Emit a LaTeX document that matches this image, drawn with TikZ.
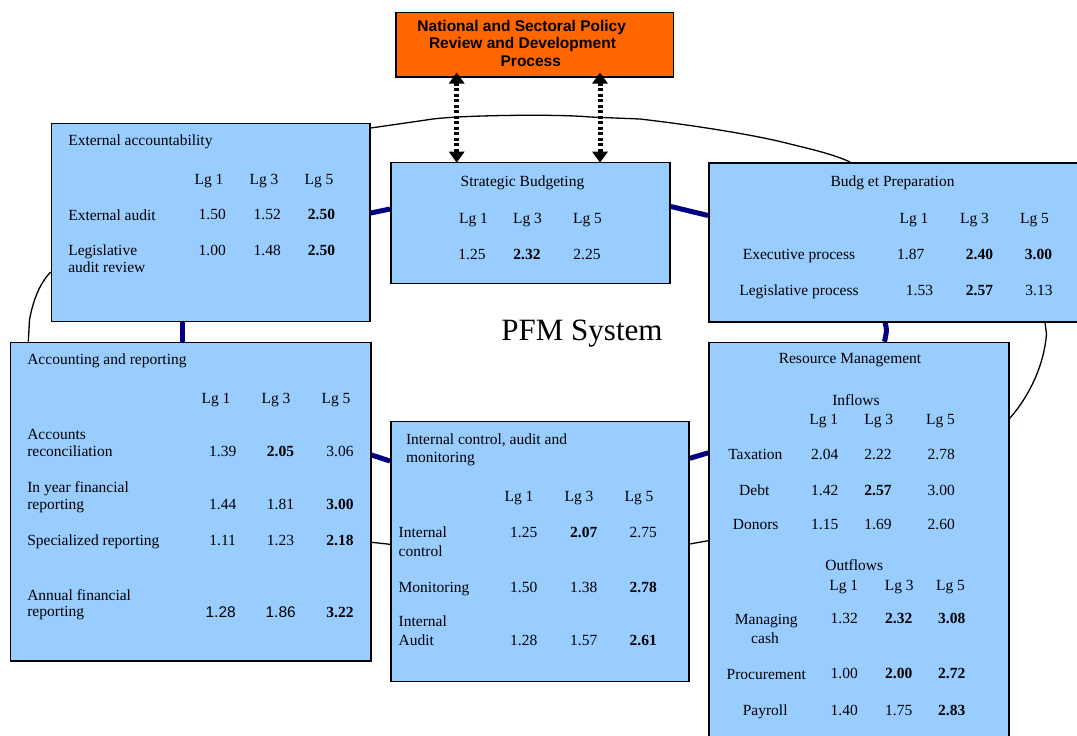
\documentclass[tikz,border=0pt]{standalone}
\usepackage{fontspec}
\setmainfont{Liberation Serif}
\newfontfamily\arialf{Liberation Sans}
\usetikzlibrary{arrows.meta,calc}
\definecolor{lblue}{HTML}{99CCFF}
\definecolor{orng}{HTML}{FF6600}
\definecolor{navyc}{HTML}{000080}
\newcommand\bodyfs{\fontsize{15.5}{18}\selectfont}
\newcommand\rowtrio[8]{%
  \node[tx,anchor=base] (#1a) at (#3,#2) {#4};
  \node[tx,anchor=base] (#1b) at (#5,#2) {#6};
  \node[tx,anchor=base] (#1c) at (#7,#2) {#8};}
\pgfdeclarelayer{bg}
\pgfsetlayers{bg,main}
\begin{document}
\begin{tikzpicture}[x=1pt,y=-1pt,
  box/.style={draw=black,line width=1.5pt,fill=lblue,inner sep=0pt,anchor=north west},
  tx/.style={font=\bodyfs,inner sep=0pt,outer sep=0pt},
  ttl/.style={font=\arialf\bfseries\fontsize{15.5}{18}\selectfont,inner sep=0pt},
  thickc/.style={draw=navyc,line width=5pt},
  thinc/.style={draw=black,line width=1.3pt},
  dotarrow/.style={line width=5pt,dash pattern=on 3pt off 2.5pt,
    {Triangle[length=11pt,width=15pt]}-{Triangle[length=11pt,width=15pt]}}]
\useasboundingbox (0,0) rectangle (1077,736);

% boxes
\node[box,fill=orng,minimum width=277.5pt,minimum height=64.3pt] (pol) at (395,11.7) {};
\node[box,minimum width=318.6pt,minimum height=198pt] (ext) at (50.7,122.7) {};
\node[box,minimum width=279.3pt,minimum height=121pt] (strat) at (390,161.7) {};
\node[box,minimum width=380pt,minimum height=159pt] (bp) at (708,162) {};
\node[box,minimum width=360.5pt,minimum height=318.3pt] (acc) at (9.5,341.7) {};
\node[box,minimum width=298.3pt,minimum height=260pt] (int) at (390,420.7) {};
\node[box,minimum width=300pt,minimum height=420pt] (res) at (708.3,341.7) {};

% connectors (behind boxes)
\begin{pgfonlayer}{bg}
\draw[thickc] (ext.east |- 0,213) -- (strat.west |- 0,209);
\draw[thickc] (strat.east |- 0,206.5) -- (bp.west |- 0,215.5);
\draw[thickc] (ext.south -| 182,0) -- (acc.north -| 182,0);
\draw[thickc] (bp.south -| 885,0) .. controls (887,330) .. (res.north -| 884.5,0);
\draw[thickc] (acc.east |- 0,455) -- (int.west |- 0,461);
\draw[thickc] (int.east |- 0,458.3) -- (res.west |- 0,452.8);
\draw[thinc] (acc.east |- 0,542.3) -- (int.west |- 0,544.3);
\draw[thinc] (int.east |- 0,544) -- (res.west |- 0,540.7);
\draw[thinc] (ext.east |- 0,128) -- (433,119) .. controls (465,115) and (560,114) .. (590,117)
  -- (640,119) .. controls (700,126) and (760,136) .. (790,144)
  .. controls (815,150) and (835,155) .. (bp.north -| 850,0);
\draw[thinc] (ext.west |- 0,272) .. controls (40,283) and (33,300) .. (29.5,320) -- (acc.north -| 28.3,0);
\draw[thinc] (bp.south -| 1045,0) -- (1046.5,334) .. controls (1044,365) and (1030,395) .. (res.east |- 0,418.3);
\end{pgfonlayer}

% dotted double arrows
\draw[dotarrow] ($(pol.south -| 456.7,0)+(0,-5)$) -- ($(strat.north -| 456.7,0)+(0,1)$);
\draw[dotarrow] ($(pol.south -| 600,0)+(0,-5)$) -- ($(strat.north -| 600,0)+(0,1)$);

% policy box text
\node[ttl,anchor=base] (p1) at (521.7,31.7) {National and Sectoral Policy};
\node[ttl,anchor=base] (p2) at (522.5,48.3) {Review and Development};
\node[ttl,anchor=base] (p3) at (530.8,66.7) {Process};

% External accountability
\node[tx,anchor=base west] (e0) at (68.3,145) {External accountability};
\rowtrio{eh}{184}{209}{Lg 1}{264}{Lg 3}{319}{Lg 5}
\node[tx,anchor=base west] (e1) at (68.3,220) {External audit};
\rowtrio{er1}{219.5}{212.3}{1.50}{267.3}{1.52}{321.5}{\bfseries 2.50}
\node[tx,anchor=base west] (e2) at (68.3,255.5) {Legislative};
\node[tx,anchor=base west] (e3) at (68.3,272.7) {audit review};
\rowtrio{er2}{255}{212.3}{1.00}{267.3}{1.48}{321.5}{\bfseries 2.50}

% Strategic Budgeting
\node[tx,anchor=base] (s0) at (522.5,186) {Strategic Budgeting};
\rowtrio{sh}{223}{473.5}{Lg 1}{527.5}{Lg 3}{587.5}{Lg 5}
\rowtrio{sr}{259}{472}{1.25}{527}{\bfseries 2.32}{587}{2.25}

% Budget Preparation
\node[tx,anchor=base] (b0) at (892.5,186) {Budg et Preparation};
\rowtrio{bh}{223}{914}{Lg 1}{974.5}{Lg 3}{1034.5}{Lg 5}
\node[tx,anchor=base] (b1) at (799,259) {Executive process};
\rowtrio{br1}{259}{910.7}{1.87}{979.5}{\bfseries 2.40}{1038.5}{\bfseries 3.00}
\node[tx,anchor=base] (b2) at (799,295) {Legislative process};
\rowtrio{br2}{295}{919.5}{1.53}{979.5}{\bfseries 2.57}{1039}{3.13}

% PFM System
\node[font=\fontsize{31}{36}\selectfont,inner sep=0pt,anchor=base] (pfm) at (582,340) {PFM System};

% Accounting and reporting
\node[tx,anchor=base west] (a0) at (27.3,364.3) {Accounting and reporting};
\rowtrio{ah}{403.3}{216}{Lg 1}{276}{Lg 3}{336}{Lg 5}
\node[tx,anchor=base west] (a1) at (27.3,439.3) {Accounts};
\node[tx,anchor=base west] (a2) at (27.3,456) {reconciliation};
\rowtrio{ar1}{456}{222.7}{1.39}{280.5}{\bfseries 2.05}{340}{3.06}
\node[tx,anchor=base west] (a3) at (27.3,492.3) {In year financial};
\node[tx,anchor=base west] (a4) at (27.3,509.5) {reporting};
\rowtrio{ar2}{509.5}{222.7}{1.44}{280.5}{1.81}{340}{\bfseries 3.00}
\node[tx,anchor=base west] (a5) at (27.3,545) {Specialized reporting};
\rowtrio{ar3}{545}{222.7}{1.11}{280.5}{1.23}{340}{\bfseries 2.18}
\node[tx,anchor=base west] (a6) at (27.3,600) {Annual financial};
\node[tx,anchor=base west] (a7) at (27.3,616.7) {reporting};
\rowtrio{ar4}{617}{220.7}{\arialf 1.28}{280.7}{\arialf 1.86}{340}{\bfseries 3.22}

% Internal control
\node[tx,anchor=base west] (i0) at (406,444.3) {Internal control, audit and};
\node[tx,anchor=base west] (i1) at (406,462.5) {monitoring};
\rowtrio{ih}{501.7}{519}{Lg 1}{579}{Lg 3}{639}{Lg 5}
\node[tx,anchor=base west] (i2) at (398.7,537.7) {Internal};
\node[tx,anchor=base west] (i3) at (398.7,556) {control};
\rowtrio{ir1}{537.7}{523.7}{1.25}{583.7}{\bfseries 2.07}{643.3}{2.75}
\node[tx,anchor=base west] (i4) at (398.7,592.7) {Monitoring};
\rowtrio{ir2}{592.7}{523.7}{1.50}{583.7}{1.38}{643.3}{\bfseries 2.78}
\node[tx,anchor=base west] (i5) at (398.7,626) {Internal};
\node[tx,anchor=base west] (i6) at (398.7,645.7) {Audit};
\rowtrio{ir3}{645.7}{523.7}{1.28}{583.7}{1.57}{643.3}{\bfseries 2.61}

% Resource Management
\node[tx,anchor=base] (r0) at (850,363.3) {Resource Management};
\node[tx,anchor=base] (r1) at (856,405) {Inflows};
\rowtrio{rh1}{424.3}{823.7}{Lg 1}{878.8}{Lg 3}{940.5}{Lg 5}
\node[tx,anchor=base] (r2) at (755.3,459) {Taxation};
\rowtrio{rr1}{459}{824.7}{2.04}{878}{2.22}{941.3}{2.78}
\node[tx,anchor=base] (r3) at (754.3,495) {Debt};
\rowtrio{rr2}{495}{824.7}{1.42}{878}{\bfseries 2.57}{941.3}{3.00}
\node[tx,anchor=base] (r4) at (755.7,529.3) {Donors};
\rowtrio{rr3}{529.3}{824.7}{1.15}{878}{1.69}{941.3}{2.60}
\node[tx,anchor=base] (r5) at (854.2,570.7) {Outflows};
\rowtrio{rh2}{590}{843.7}{Lg 1}{899.2}{Lg 3}{950.5}{Lg 5}
\node[tx,anchor=base] (r6) at (766.3,624.3) {Managing};
\node[tx,anchor=base] (r7) at (765,643.3) {cash};
\rowtrio{rr4}{623.5}{844.2}{1.32}{898.7}{\bfseries 2.32}{951.7}{\bfseries 3.08}
\node[tx,anchor=base] (r8) at (766.3,679) {Procurement};
\rowtrio{rr5}{678.5}{844.2}{1.00}{898.7}{\bfseries 2.00}{951.7}{\bfseries 2.72}
\node[tx,anchor=base] (r9) at (765.2,715) {Payroll};
\rowtrio{rr6}{715}{844.2}{1.40}{898.7}{1.75}{951.7}{\bfseries 2.83}
\end{tikzpicture}
\end{document}
